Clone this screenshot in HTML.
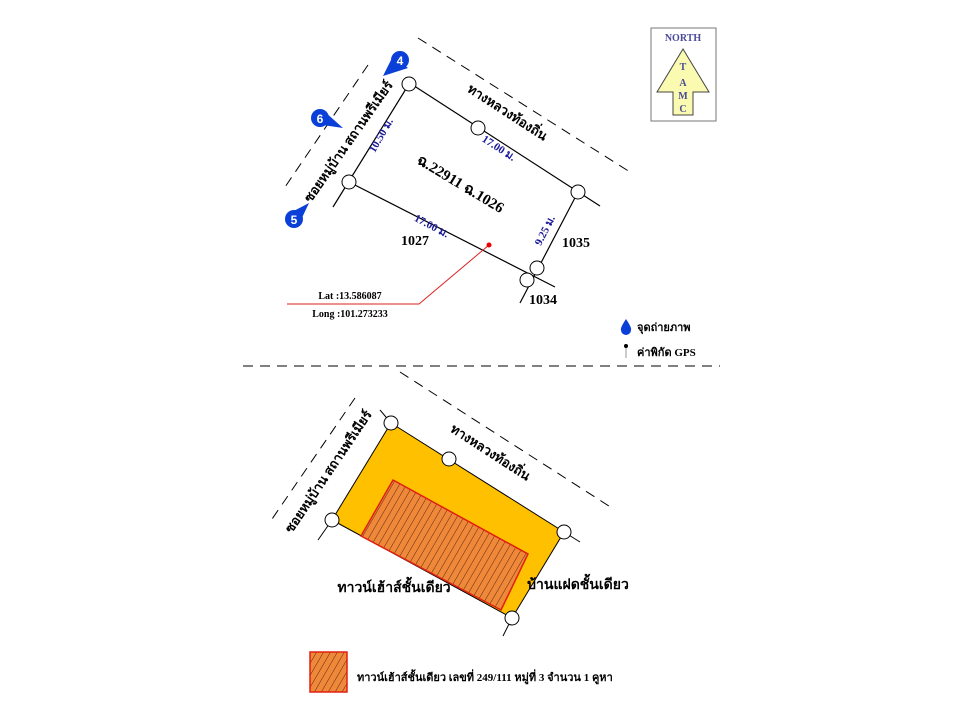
<!DOCTYPE html>
<html><head><meta charset="utf-8"><style>
body{margin:0;background:#fff;width:960px;height:720px;overflow:hidden}
svg{display:block}
text{font-family:"Liberation Serif","Noto Serif CJK SC",serif;font-weight:bold}
</style></head><body>
<svg width="960" height="720" viewBox="0 0 960 720">
<defs>
<pattern id="h" width="6" height="6" patternUnits="userSpaceOnUse" patternTransform="rotate(30)">
<rect width="6" height="6" fill="#F0883A"/><line x1="0" y1="0" x2="0" y2="6" stroke="#5a2a10" stroke-width="1"/>
</pattern>
</defs>
<g stroke="#000" stroke-width="1" stroke-dasharray="10,7" fill="none">
<line x1="418" y1="38" x2="630" y2="172"/>
<line x1="368" y1="65" x2="283" y2="190"/>
<line x1="243" y1="366" x2="720" y2="366"/>
<line x1="400" y1="372" x2="612" y2="508"/>
<line x1="355" y1="398" x2="270" y2="522"/>
</g>
<g stroke="#000" stroke-width="1.2">
<line x1="405" y1="80" x2="600" y2="206"/>
<line x1="409" y1="84" x2="333" y2="207"/>
<line x1="349" y1="182" x2="555" y2="287"/>
<line x1="578" y1="192" x2="520" y2="303"/>
</g>
<g fill="#fff" stroke="#000" stroke-width="1">
<circle cx="409" cy="84" r="7"/><circle cx="478" cy="128" r="7"/><circle cx="578" cy="192" r="7"/>
<circle cx="349" cy="182" r="7"/><circle cx="537" cy="268" r="7"/><circle cx="527" cy="280" r="7"/>
</g>
<polyline points="489,245 419,304 287,304" fill="none" stroke="#d22" stroke-width="1"/>
<circle cx="489" cy="245" r="2.5" fill="#e00"/>
<text x="350" y="299" font-size="10" text-anchor="middle">Lat :13.586087</text>
<text x="350" y="317" font-size="10" text-anchor="middle">Long :101.273233</text>
<text x="415" y="245" font-size="14" text-anchor="middle">1027</text>
<text x="576" y="247" font-size="14" text-anchor="middle">1035</text>
<text x="543" y="304" font-size="14" text-anchor="middle">1034</text>
<text transform="translate(458,188) rotate(31)" font-size="15" text-anchor="middle">ฉ.22911   ฉ.1026</text>
<g fill="#1a1a9a" font-size="11">
<text transform="translate(497,151) rotate(33)" text-anchor="middle">17.00 ม.</text>
<text transform="translate(430,229) rotate(28)" text-anchor="middle">17.00 ม.</text>
<text transform="translate(384,137) rotate(-60)" text-anchor="middle">10.50 ม.</text>
<text transform="translate(548,232) rotate(-63)" text-anchor="middle">9.25 ม.</text>
</g>
<text transform="translate(505,116) rotate(33)" font-size="13" text-anchor="middle">ทางหลวงท้องถิ่น</text>
<text transform="translate(352,144) rotate(-55)" font-size="13" text-anchor="middle">ซอยหมู่บ้าน สถานพรีเมียร์</text>
<g fill="#0a3fd8">
<circle cx="400" cy="60" r="9"/><polygon points="393,56 408,68 383,76"/>
<circle cx="320" cy="118" r="9"/><polygon points="316,124 325,112 343,128"/>
<circle cx="294" cy="219" r="9"/><polygon points="288,214 300,222 309,203"/>
</g>
<g fill="#fff" font-size="12">
<text x="400" y="65" text-anchor="middle" style="font-family:'Liberation Sans',sans-serif">4</text>
<text x="320" y="123" text-anchor="middle" style="font-family:'Liberation Sans',sans-serif">6</text>
<text x="294" y="224" text-anchor="middle" style="font-family:'Liberation Sans',sans-serif">5</text>
</g>
<rect x="651" y="28" width="65" height="93" fill="#fff" stroke="#777"/>
<text x="683" y="41" font-size="10" fill="#4a4a9a" text-anchor="middle">NORTH</text>
<polygon points="683,49 709,92 693,92 693,115 673,115 673,92 657,92" fill="#fafab0" stroke="#444"/>
<g fill="#4a4a9a" font-size="10" text-anchor="middle">
<text x="683" y="70">T</text><text x="683" y="86">A</text><text x="683" y="99">M</text><text x="683" y="112">C</text></g>
<path d="M626,319 Q620,328 621,330 A5,5 0 0 0 631,330 Q632,328 626,319Z" fill="#0a3fd8"/>
<text x="637" y="331" font-size="11">จุดถ่ายภาพ</text>
<line x1="626" y1="346" x2="626" y2="358" stroke="#999"/><circle cx="626" cy="346" r="2" fill="#000"/>
<text x="637" y="356" font-size="11">ค่าพิกัด GPS</text>
<g stroke="#000" stroke-width="1">
<line x1="391" y1="423" x2="380" y2="410"/><line x1="564" y1="532" x2="580" y2="542"/>
<line x1="512" y1="618" x2="503" y2="636"/><line x1="332" y1="520" x2="318" y2="540"/>
</g>
<polygon points="391,423 564,532 512,618 332,520" fill="#FFC000" stroke="#000"/>
<polygon points="393,480 528,554 501,610 361,536" fill="url(#h)" stroke="#e02010" stroke-width="1.5"/>
<g fill="#fff" stroke="#000"><circle cx="391" cy="423" r="7"/><circle cx="449" cy="459" r="7"/><circle cx="564" cy="532" r="7"/><circle cx="512" cy="618" r="7"/><circle cx="332" cy="520" r="7"/></g>
<text transform="translate(488,456) rotate(33)" font-size="13" text-anchor="middle">ทางหลวงท้องถิ่น</text>
<text transform="translate(332,474) rotate(-56)" font-size="13" text-anchor="middle">ซอยหมู่บ้าน สถานพรีเมียร์</text>
<text x="394" y="592" font-size="14" text-anchor="middle">ทาวน์เฮ้าส์ชั้นเดียว</text>
<text x="578" y="589" font-size="14" text-anchor="middle">บ้านแฝดชั้นเดียว</text>
<rect x="310" y="652" width="37" height="40" fill="url(#h)" stroke="#e02010" stroke-width="1.5"/>
<text x="357" y="681" font-size="11">ทาวน์เฮ้าส์ชั้นเดียว เลขที่ 249/111 หมู่ที่ 3  จำนวน 1 คูหา</text>
</svg>
</body></html>
